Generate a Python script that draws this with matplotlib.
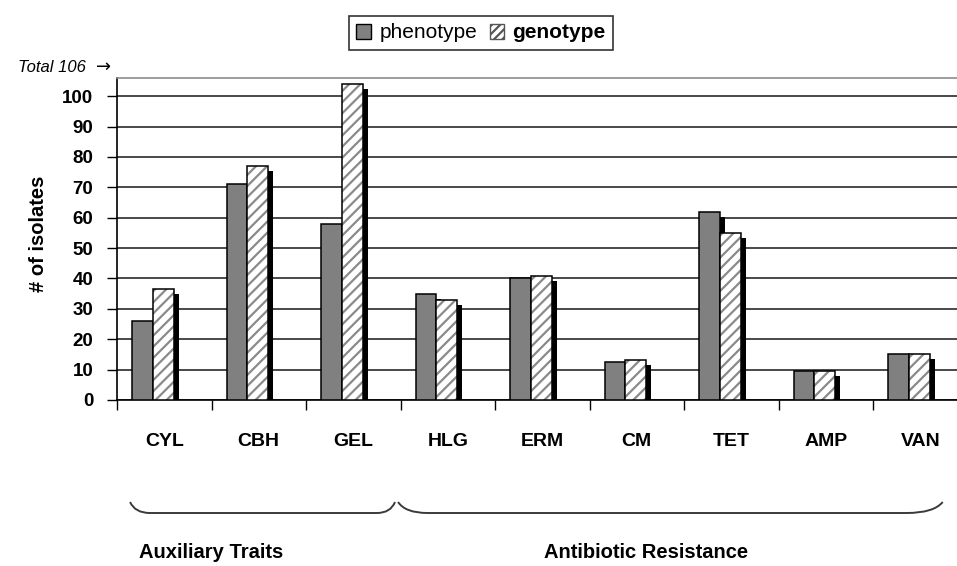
import numpy as np
import matplotlib.pyplot as plt
from matplotlib.path import Path
from matplotlib.patches import PathPatch, Patch
import matplotlib.transforms as mtransforms

# =============================================================================
# Data
# =============================================================================
categories = ['CYL', 'CBH', 'GEL', 'HLG', 'ERM', 'CM', 'TET', 'AMP', 'VAN']
phenotype  = [26, 71, 58, 35, 40, 12.6, 62, 9.5, 15]
genotype   = [36.5, 77, 104, 33, 40.7, 13.2, 55, 9.5, 15]
y_ticks    = list(range(0, 101, 10))
total      = 106
groups     = ['Auxiliary Traits', 'Antibiotic Resistance']

# =============================================================================
# Style
# =============================================================================
plt.rcParams['font.family'] = ['Liberation Sans', 'DejaVu Sans']
plt.rcParams['hatch.linewidth'] = 1.6

W, H = 957, 566
fig = plt.figure(figsize=(W / 100, H / 100), dpi=100)
ax = fig.add_axes([117 / W, 166 / H, 850.5 / W, 322 / H])

BAR_W   = 0.22
OFFSET  = 0.16          # from category boundary to first bar
SH_X    = 0.053         # shadow shift (data units)
SH_Y    = 1.6

x = np.arange(len(categories))
left_p = x - 0.5 + OFFSET
left_g = left_p + BAR_W

# shadows
ax.bar(left_p + SH_X, np.array(phenotype) - SH_Y, width=BAR_W, align='edge',
       color='black', linewidth=0, zorder=2)
ax.bar(left_g + SH_X, np.array(genotype) - SH_Y, width=BAR_W, align='edge',
       color='black', linewidth=0, zorder=2)

# bars
ax.bar(left_p, phenotype, width=BAR_W, align='edge', color='#808080',
       edgecolor='black', linewidth=1.1, zorder=3)
ax.bar(left_g, genotype, width=BAR_W, align='edge', color='white',
       edgecolor='#8a8a8a', hatch='///', linewidth=0, zorder=3)
ax.bar(left_g, genotype, width=BAR_W, align='edge', fill=False,
       edgecolor='black', linewidth=1.1, zorder=3.1)

# axes
ax.set_xlim(-0.5, len(categories) - 0.5)
ax.set_ylim(0, total)
ax.set_yticks(y_ticks)
ax.set_yticklabels([str(v) for v in y_ticks], fontsize=13.5, fontweight='bold')
ax.tick_params(axis='y', length=7, width=1, pad=10, direction='out')
ax.yaxis.grid(True, color='#2a2a2a', linewidth=1.2)
ax.set_axisbelow(True)

ax.set_xticks(x)
ax.set_xticklabels(categories, fontsize=14, fontweight='bold')
ax.set_xticks(np.arange(-0.5, len(categories) + 0.5, 1), minor=True)
ax.tick_params(axis='x', which='major', length=0, pad=24)
ax.tick_params(axis='x', which='minor', length=7, width=1, direction='out')

for s in ['left', 'bottom']:
    ax.spines[s].set_color('black')
    ax.spines[s].set_linewidth(1.2)
ax.spines['top'].set_color('#8c8c8c')
ax.spines['top'].set_linewidth(1.2)
ax.spines['right'].set_visible(False)

ax.set_ylabel('# of isolates', fontsize=14.5, fontweight='bold')
ax.yaxis.set_label_coords(-69 / 850.5, 0.515)

ax.text(-31 / 850.5, (400 - 67) / 322, f'Total {total}', transform=ax.transAxes,
        ha='right', va='center', fontsize=12, style='italic')
ax.text(-21 / 850.5, (400 - 67) / 322, '\u2192', transform=ax.transAxes,
        ha='left', va='center', fontsize=13, family='DejaVu Sans')

# legend
handles = [Patch(facecolor='#808080', edgecolor='black', linewidth=1),
           Patch(facecolor='white', edgecolor='#555555', hatch='////', linewidth=1)]
leg = fig.legend(handles, ['phenotype', 'genotype'], loc='center',
                 bbox_to_anchor=(481 / W, 1 - 33 / H), ncol=2, fontsize=15,
                 frameon=True, fancybox=False, handlelength=0.7, handleheight=0.7,
                 handletextpad=0.4, columnspacing=0.6, borderpad=0.35,
                 edgecolor='black')
leg.get_frame().set_linewidth(1.2)
leg.get_texts()[1].set_fontweight('bold')

# group braces
trans = mtransforms.blended_transform_factory(ax.transData, ax.transAxes)
y_top = (400 - 502) / 322
y_bot = (400 - 513) / 322


def brace(x0, x1, d0, d1):
    verts = [(x0, y_top), (x0 + 0.25 * d0, y_bot), (x0 + d0, y_bot),
             (x1 - d1, y_bot), (x1 - 0.25 * d1, y_bot), (x1, y_top)]
    codes = [Path.MOVETO, Path.CURVE3, Path.CURVE3,
             Path.LINETO, Path.CURVE3, Path.CURVE3]
    ax.add_patch(PathPatch(Path(verts, codes), transform=trans, fill=False,
                           edgecolor='#3a3a3a', linewidth=1.4, clip_on=False))


brace(-0.362, 2.442, 0.21, 0.19)
brace(2.474, 8.238, 0.31, 0.38)

for label, gx in zip(groups, [0.495, 5.1]):
    ax.text(gx, (400 - 553) / 322, label, transform=trans, ha='center',
            va='center', fontsize=14.5, fontweight='bold')

fig.savefig('out.png', dpi=100)
